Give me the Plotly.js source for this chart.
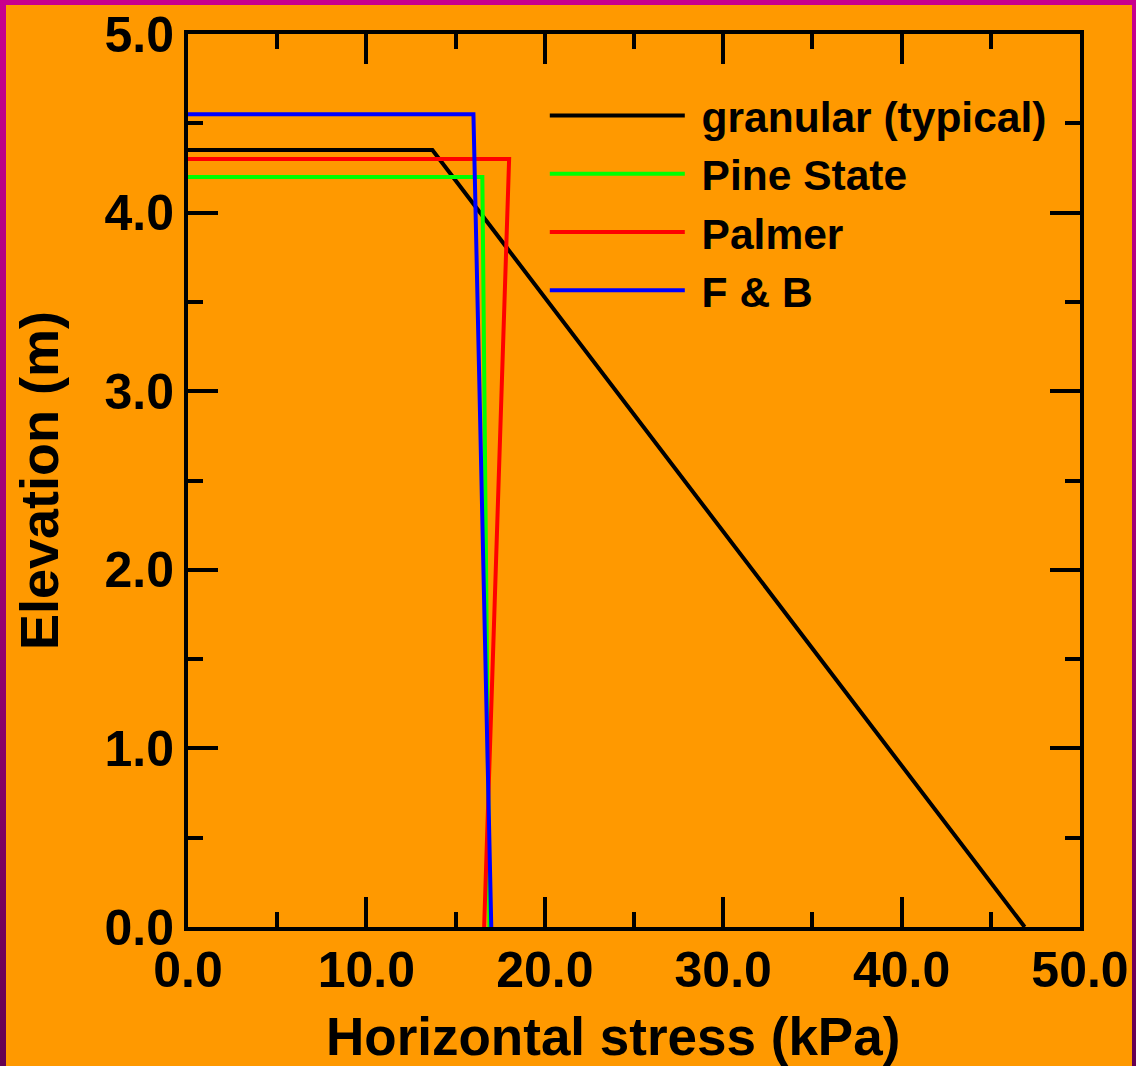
<!DOCTYPE html>
<html>
<head>
<meta charset="utf-8">
<script src="https://cdn.plot.ly/plotly-3.0.1.min.js"></script>
<style>
  html, body { margin: 0; padding: 0; }
  body {
    width: 1136px; height: 1066px; overflow: hidden; position: relative;
    background: linear-gradient(to bottom, #C8008E 0%, #A00075 50%, #650052 100%);
  }
  #chart { position: absolute; left: 6px; top: 5px; width: 1126px; height: 1061px; }
</style>
</head>
<body>
<div id="chart"></div>
<script>
// Series data (x = horizontal stress in kPa, y = elevation in m)
const seriesNames = ["granular (typical)", "Pine State", "Palmer", "F & B"];
const seriesColors = ["#000000", "#00FF00", "#FF0000", "#0000FF"];
const granularX = [0, 13.7, 46.9];
const granularY = [4.35, 4.35, 0];
const pineStateX = [0, 16.5, 16.9];
const pineStateY = [4.2, 4.2, 0];
const palmerX = [0, 18.0, 16.6];
const palmerY = [4.3, 4.3, 0];
const fbX = [0, 16.0, 17.0];
const fbY = [4.55, 4.55, 0];

const xRange = [0, 50];
const yRange = [0, 5];
const xTitle = "Horizontal stress (kPa)";
const yTitle = "Elevation (m)";

const xs = [granularX, pineStateX, palmerX, fbX];
const ys = [granularY, pineStateY, palmerY, fbY];

const FONT = "Liberation Sans, Arial, Helvetica, sans-serif";
const NBSP = "\u00A0";

const traces = seriesNames.map((name, i) => ({
  x: xs[i], y: ys[i], name: NBSP + name, type: "scatter", mode: "lines",
  line: { color: seriesColors[i], width: 4 }
}));

const axisCommon = {
  showline: true, linewidth: 4, linecolor: "#000000", mirror: "allticks",
  ticks: "inside", ticklen: 30, tickwidth: 4, tickcolor: "#000000",
  showgrid: false, zeroline: false, tickformat: ".1f",
  tickfont: { family: FONT, size: 50, color: "#000000", weight: 700 }
};

const layout = {
  width: 1126, height: 1061,
  paper_bgcolor: "#FF9900", plot_bgcolor: "#FF9900",
  margin: { l: 182, r: 52, t: 29, b: 139 },
  showlegend: true,
  legend: {
    x: 0.40, y: 0.947, xanchor: "left", yanchor: "top",
    bgcolor: "rgba(0,0,0,0)", borderwidth: 0,
    font: { family: FONT, size: 42.5, color: "#000000", weight: 700 },
    itemwidth: 135
  },
  xaxis: Object.assign({}, axisCommon, {
    range: xRange, dtick: 10, tick0: 0, ticklabelstandoff: -4,
    minor: { dtick: 5, ticks: "inside", ticklen: 15, tickwidth: 4, tickcolor: "#000000" }
  }),
  yaxis: Object.assign({}, axisCommon, {
    range: yRange, dtick: 1, tick0: 0,
    minor: { dtick: 0.5, ticks: "inside", ticklen: 15, tickwidth: 4, tickcolor: "#000000" },
    title: { text: yTitle, standoff: 30,
             font: { family: FONT, size: 54, color: "#000000", weight: 700 } }
  }),
  annotations: [{
    text: xTitle, xref: "paper", yref: "paper", x: 0.4765, y: -0.1221,
    xanchor: "center", yanchor: "middle", showarrow: false, borderpad: 0,
    font: { family: FONT, size: 53, color: "#000000", weight: 700 }
  }]
};

Plotly.newPlot("chart", traces, layout, { displayModeBar: false, staticPlot: true });
</script>
</body>
</html>
